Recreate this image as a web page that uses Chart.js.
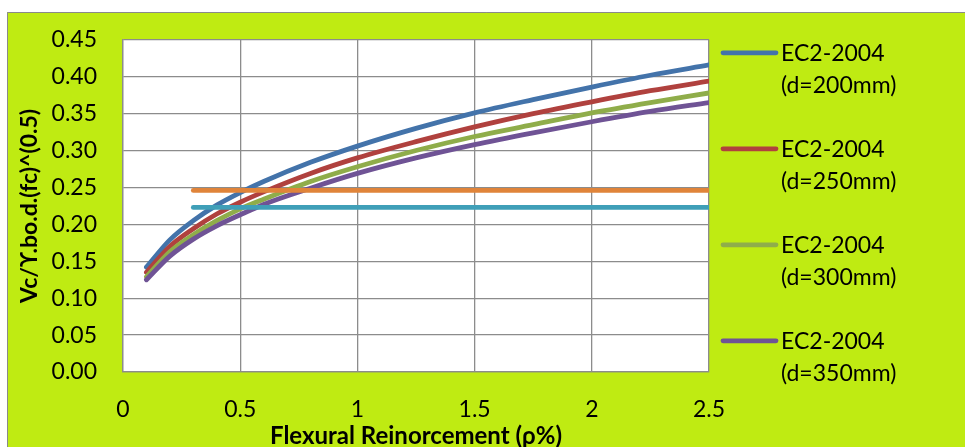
<!DOCTYPE html>
<html>
<head>
<meta charset="utf-8">
<script src="https://cdn.jsdelivr.net/npm/chart.js@4/dist/chart.umd.min.js"></script>
<style>
  html, body { margin: 0; padding: 0; background: #ffffff; }
  canvas { display: block; }
</style>
</head>
<body>
<canvas id="c" width="965" height="447"></canvas>
<script>
// Reinforcement ratio (%) sampled along each curve
const rho = [0.1, 0.2, 0.3, 0.4, 0.5, 0.6, 0.8, 1.0, 1.25, 1.5, 1.75, 2.0, 2.25, 2.5];

// Normalised shear resistance for each effective depth
const ec2d200 = [0.142, 0.179, 0.205, 0.226, 0.243, 0.258, 0.284, 0.306, 0.330, 0.351, 0.369, 0.386, 0.402, 0.416];
const ec2d250 = [0.135, 0.170, 0.194, 0.214, 0.230, 0.244, 0.269, 0.290, 0.312, 0.332, 0.350, 0.366, 0.381, 0.394];
const ec2d300 = [0.129, 0.163, 0.186, 0.205, 0.221, 0.234, 0.258, 0.278, 0.300, 0.319, 0.335, 0.351, 0.365, 0.378];
const ec2d350 = [0.125, 0.157, 0.180, 0.198, 0.213, 0.227, 0.249, 0.269, 0.290, 0.308, 0.324, 0.339, 0.353, 0.365];

// Constant reference levels, drawn from rho = 0.3 to 2.5
const levelRho = [0.3, 2.5];
const levelUpper = [0.246, 0.246];
const levelLower = [0.223, 0.223];

const seriesLabels = [
  ['EC2-2004', '(d=200mm)'],
  ['EC2-2004', '(d=250mm)'],
  ['EC2-2004', '(d=300mm)'],
  ['EC2-2004', '(d=350mm)']
];

const xTitle = 'Flexural Reinorcement (\u03C1%)';
const yTitle = 'Vc/\u03D2.bo.d.(fc)^(0.5)';

const colors = ['#4373aa', '#b0413e', '#8fad4a', '#6f5395', '#e0843a', '#3f9fb8'];
const FONT = 'Lato, "Open Sans", "DejaVu Sans", sans-serif';

const pts = (xs, ys) => xs.map((x, i) => ({ x: x, y: ys[i] }));

function curve(label, xs, ys, color, order) {
  return {
    label: label,
    data: pts(xs, ys),
    borderColor: color,
    backgroundColor: color,
    borderWidth: 4.8,
    borderCapStyle: 'round',
    pointRadius: 0,
    pointHoverRadius: 0,
    cubicInterpolationMode: 'monotone',
    fill: false,
    order: order
  };
}

// Lime chart area with thin grey frame, white plot area
const backdrop = {
  id: 'backdrop',
  beforeDraw(chart) {
    const ctx = chart.ctx;
    const a = chart.chartArea;
    ctx.save();
    ctx.fillStyle = '#ffffff';
    ctx.fillRect(0, 0, chart.width, chart.height);
    ctx.fillStyle = '#bfeb12';
    ctx.fillRect(7, 12, chart.width - 7, chart.height - 12);
    ctx.strokeStyle = '#8a8a8a';
    ctx.lineWidth = 1;
    ctx.beginPath();
    ctx.moveTo(7.5, chart.height);
    ctx.lineTo(7.5, 12.5);
    ctx.lineTo(chart.width, 12.5);
    ctx.stroke();
    ctx.fillStyle = '#ffffff';
    ctx.fillRect(a.left, a.top, a.right - a.left, a.bottom - a.top);
    ctx.restore();
  }
};

// Legend on the right with two-line labels
const sideLegend = {
  id: 'sideLegend',
  afterDraw(chart) {
    const ctx = chart.ctx;
    const a = chart.chartArea;
    ctx.save();
    ctx.font = '23px ' + FONT;
    ctx.textBaseline = 'middle';
    ctx.textAlign = 'left';
    seriesLabels.forEach((lines, i) => {
      const y = a.top + 13 + i * 96;
      ctx.strokeStyle = colors[i];
      ctx.lineWidth = 4.8;
      ctx.lineCap = 'round';
      ctx.beginPath();
      ctx.moveTo(a.right + 14, y);
      ctx.lineTo(a.right + 67, y);
      ctx.stroke();
      ctx.fillStyle = '#000000';
      lines.forEach((t, j) => ctx.fillText(t, a.right + 72, y + 1 + j * 32));
    });
    ctx.restore();
  }
};

new Chart(document.getElementById('c'), {
  type: 'line',
  data: {
    datasets: [
      curve(seriesLabels[0].join(' '), rho, ec2d200, colors[0], 5),
      curve(seriesLabels[1].join(' '), rho, ec2d250, colors[1], 4),
      curve(seriesLabels[2].join(' '), rho, ec2d300, colors[2], 3),
      curve(seriesLabels[3].join(' '), rho, ec2d350, colors[3], 2),
      curve('upper level', levelRho, levelUpper, colors[4], 1),
      curve('lower level', levelRho, levelLower, colors[5], 0)
    ]
  },
  options: {
    responsive: false,
    devicePixelRatio: 1,
    animation: false,
    layout: { padding: { left: 7, top: 37, right: 256, bottom: 0 } },
    plugins: {
      legend: { display: false },
      tooltip: { enabled: false }
    },
    scales: {
      x: {
        type: 'linear',
        min: 0,
        max: 2.5,
        afterFit(s) { s.height = 75; },
        ticks: {
          stepSize: 0.5,
          color: '#000000',
          padding: 24,
          maxRotation: 0,
          font: { family: FONT, size: 23 },
          callback: v => String(Number(v.toFixed(1)))
        },
        grid: { color: '#8c8c8c', lineWidth: 1.3, drawTicks: false },
        border: { color: '#8c8c8c', width: 1.3 },
        title: {
          display: true,
          text: xTitle,
          color: '#000000',
          padding: { top: 0, bottom: -1 },
          font: { family: FONT, size: 24, weight: 'bold', lineHeight: 1 }
        }
      },
      y: {
        min: 0,
        max: 0.45,
        afterFit(s) { s.width = 116; },
        ticks: {
          stepSize: 0.05,
          color: '#000000',
          padding: 26,
          font: { family: FONT, size: 23 },
          callback: v => v.toFixed(2)
        },
        grid: { color: '#8c8c8c', lineWidth: 1.3, drawTicks: false },
        border: { color: '#8c8c8c', width: 1.3 },
        title: {
          display: true,
          text: yTitle,
          color: '#000000',
          padding: { top: 9, bottom: 0 },
          font: { family: FONT, size: 23, weight: 'bold', lineHeight: 1.2 }
        }
      }
    }
  },
  plugins: [backdrop, sideLegend]
});
</script>
</body>
</html>
